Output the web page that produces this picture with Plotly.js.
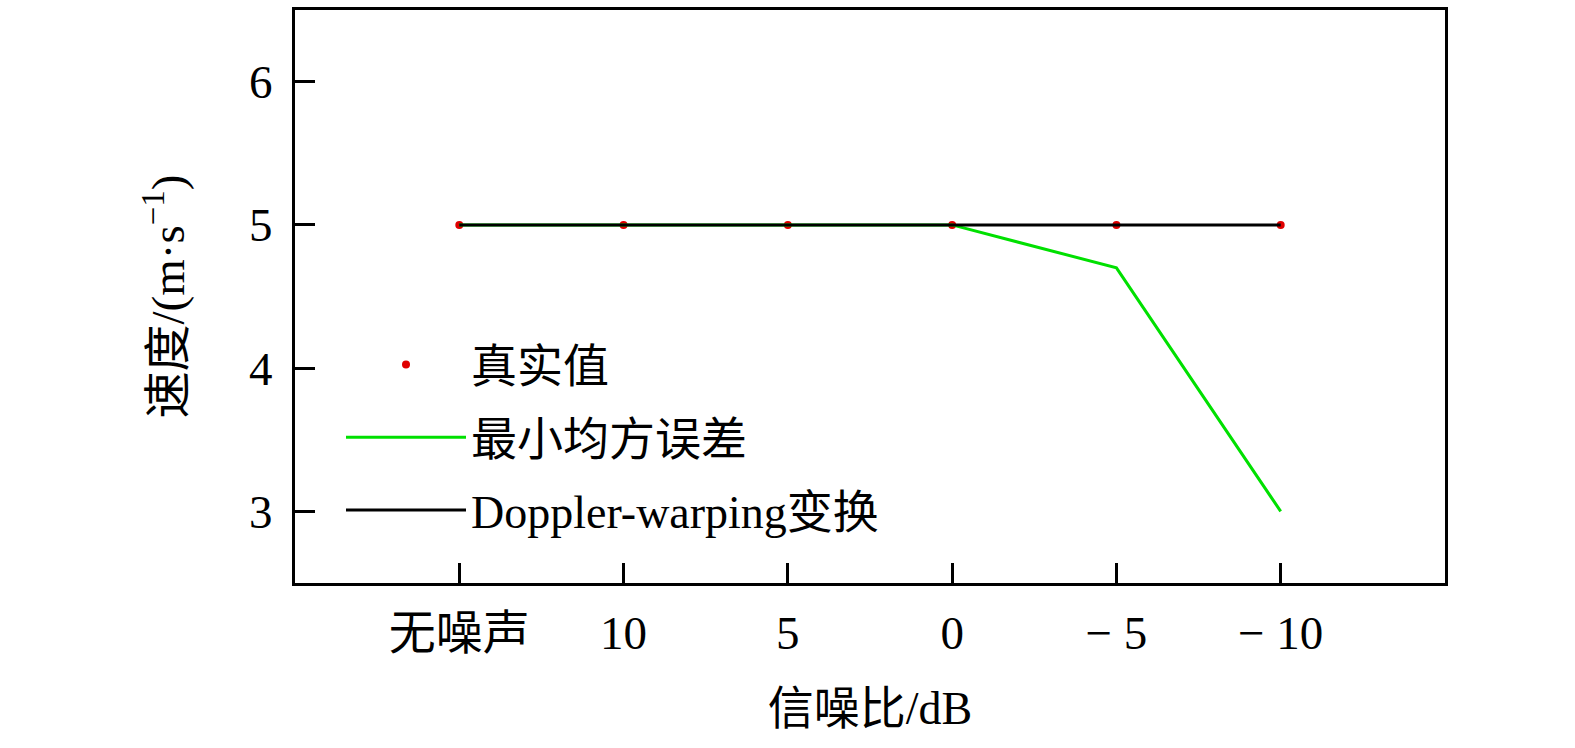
<!DOCTYPE html>
<html>
<head>
<meta charset="utf-8">
<script src="https://cdn.plot.ly/plotly-3.0.1.min.js"></script>
<style>html,body{margin:0;padding:0;background:#fff;}#chart{width:1575px;height:748px;}</style>
</head>
<body>
<div id="chart"></div>
<script>
const categories = ["无噪声", "10", "5", "0", "\u2212 5", "\u2212 10"];
const trueValues = [5, 5, 5, 5, 5, 5];
const lmsValues = [5, 5, 5, 5, 4.7, 3];
const dwValues = [5, 5, 5, 5, 5, 5];
const seriesNames = ["真实值", "最小均方误差", "Doppler-warping变换"];
const yTicks = [3, 4, 5, 6];

const xIdx = categories.map((c, i) => i);
const FONT = '"Liberation Serif", "Noto Sans CJK SC", serif';

const traces = [
  {x: xIdx, y: trueValues, name: seriesNames[0], mode: 'markers', type: 'scatter',
   marker: {color: '#e00000', size: 8, symbol: 'circle'}, legendgroup: 'a'},
  {x: xIdx, y: lmsValues, name: seriesNames[1], mode: 'lines', type: 'scatter',
   line: {color: '#00e000', width: 3}, legendgroup: 'b'},
  {x: xIdx, y: dwValues, name: seriesNames[2], mode: 'lines', type: 'scatter',
   line: {color: '#000000', width: 3}, legendgroup: 'c'}
];

const layout = {
  width: 1575, height: 748,
  margin: {l: 295, r: 130, t: 10, b: 165},
  paper_bgcolor: '#fff', plot_bgcolor: '#fff',
  font: {family: FONT, size: 46, color: '#000'},
  showlegend: true,
  legend: {x: 0.04, y: 0.445, xanchor: 'left', yanchor: 'top', bgcolor: 'rgba(0,0,0,0)',
           font: {family: FONT, size: 46, color: '#000'}, tracegroupgap: 10, itemwidth: 120},
  xaxis: {
    range: [-1, 6], tickmode: 'array', tickvals: xIdx, ticktext: categories,
    ticks: 'inside', ticklen: 20, tickwidth: 3, tickcolor: '#000',
    showline: true, linewidth: 3, linecolor: '#000', mirror: true,
    showgrid: false, zeroline: false, ticklabelstandoff: 7,
    tickfont: {family: FONT, size: 47},
    title: {text: '信噪比/dB', font: {family: FONT, size: 46}, standoff: 34}
  },
  yaxis: {
    range: [2.5, 6.5], tickmode: 'array', tickvals: yTicks, ticktext: yTicks.map(String),
    ticks: 'inside', ticklen: 20, tickwidth: 3, tickcolor: '#000',
    showline: true, linewidth: 3, linecolor: '#000', mirror: true,
    showgrid: false, zeroline: false, ticklabelstandoff: 10,
    tickfont: {family: FONT, size: 47},
    title: {text: '速度/(m·s<sup>−1</sup>)', font: {family: FONT, size: 47}, standoff: 50}
  }
};

Plotly.newPlot('chart', traces, layout, {staticPlot: true, displayModeBar: false});
</script>
</body>
</html>
